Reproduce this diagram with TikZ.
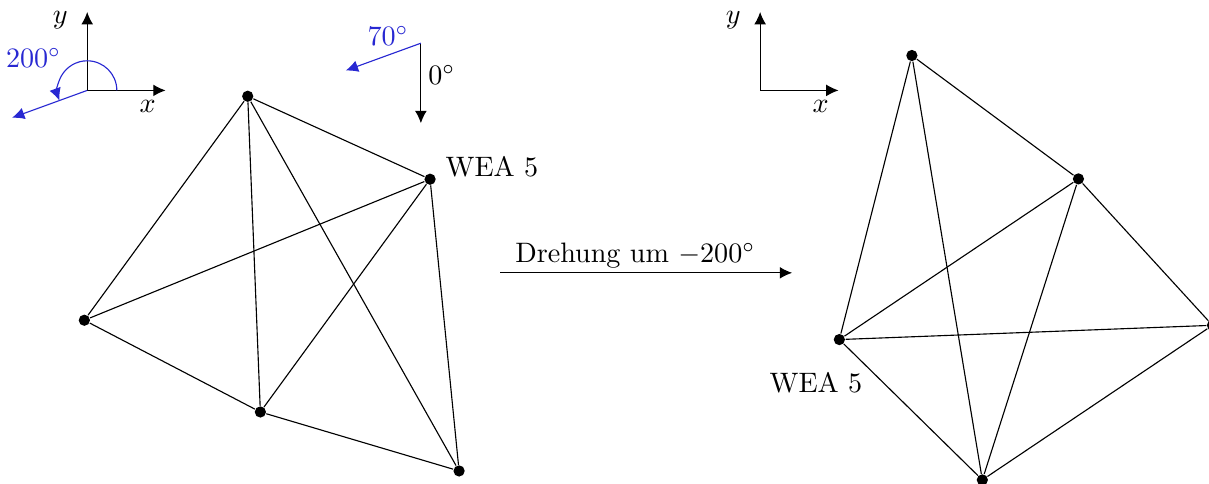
\documentclass[tikz,border=0pt]{standalone}
\usepackage{xcolor}
\usepackage{tikz}
\usetikzlibrary{arrows.meta, positioning}
\definecolor{winkelblau}{RGB}{40,40,210}

\begin{document}
\begin{tikzpicture}[
  wea/.style={circle, fill, inner sep=0pt, minimum size=4pt},
  arrow/.style={-{Latex[length=4.4pt, width=4.2pt]}},
  winkel/.style={winkelblau}
]
\useasboundingbox (0,0) rectangle (15.11,6.04);

\coordinate (o1) at (1.09,4.91);
\coordinate (x1) at (2.07,4.91);
\coordinate (y1) at (1.09,5.89);
\coordinate (r1) at ([shift={(200:1)}]o1);
\draw[arrow] (o1) -- (x1);
\draw[arrow] (o1) -- (y1);
\node[anchor=north east] (x1lab) at (x1) {$x$};
\node[anchor=east] (y1lab) at ([shift={(-0.12,-0.1)}]y1) {$y$};
\draw[winkel, arrow] (o1) -- (r1);
\draw[winkel, arrow] ([shift={(0:0.37)}]o1) arc[start angle=0, end angle=200, radius=0.37];
\node[winkel] (w1lab) at ([shift={(-0.67,0.41)}]o1) {$200^\circ$};

\coordinate (o2) at (5.26,5.5);
\coordinate (s2) at (5.26,4.5);
\coordinate (r2) at ([shift={(200:1)}]o2);
\draw[arrow] (o2) -- (s2);
\draw[winkel, arrow] (o2) -- (r2);
\node[anchor=west] (s2lab) at ([shift={(-0.03,-0.4)}]o2) {$0^\circ$};
\node[winkel] (w2lab) at ([shift={(-0.41,0.09)}]o2) {$70^\circ$};

\coordinate (o3) at (9.5,4.91);
\coordinate (x3) at (10.48,4.91);
\coordinate (y3) at (9.5,5.89);
\draw[arrow] (o3) -- (x3);
\draw[arrow] (o3) -- (y3);
\node[anchor=north east] (x3lab) at (x3) {$x$};
\node[anchor=east] (y3lab) at ([shift={(-0.12,-0.1)}]y3) {$y$};

\begin{scope}[shift={(5.375,3.80)}]
\node[wea] (wea1) at (-2.279,1.037) {};
\node[wea] (wea2) at (-4.321,-1.7625) {};
\node[wea] (wea3) at (-2.121,-2.909) {};
\node[wea] (wea4) at (0.3625,-3.646) {};
\node[wea] (wea5) at (0,0) {};
\end{scope}
\draw (wea1) -- (wea5);
\draw (wea1) -- (wea2);
\draw (wea1) -- (wea3);
\draw (wea1) -- (wea4);
\draw (wea5) -- (wea2);
\draw (wea5) -- (wea3);
\draw (wea5) -- (wea4);
\draw (wea2) -- (wea3);
\draw (wea3) -- (wea4);
\node[anchor=base west] (wea5lab) at ([shift={(0.07,0.04)}]wea5) {WEA 5};

\coordinate (d1) at (6.25,2.63);
\coordinate (d2) at (9.9,2.63);
\draw[arrow] (d1) -- (d2);
\node[anchor=base] (drehlab) at (7.94,2.754) {Drehung um $-200^\circ$};

\begin{scope}[shift={(10.49,1.796)}, rotate=-200]
\node[wea] (neu1) at (-2.279,1.037) {};
\node[wea] (neu2) at (-4.321,-1.7625) {};
\node[wea] (neu3) at (-2.121,-2.909) {};
\node[wea] (neu4) at (0.3625,-3.646) {};
\node[wea] (neu5) at (0,0) {};
\end{scope}
\draw (neu1) -- (neu5);
\draw (neu1) -- (neu2);
\draw (neu1) -- (neu3);
\draw (neu1) -- (neu4);
\draw (neu5) -- (neu2);
\draw (neu5) -- (neu3);
\draw (neu5) -- (neu4);
\draw (neu2) -- (neu3);
\draw (neu3) -- (neu4);
\node[anchor=base east] (neu5lab) at ([shift={(0.41,-0.667)}]neu5) {WEA 5};
\end{tikzpicture}
\end{document}
